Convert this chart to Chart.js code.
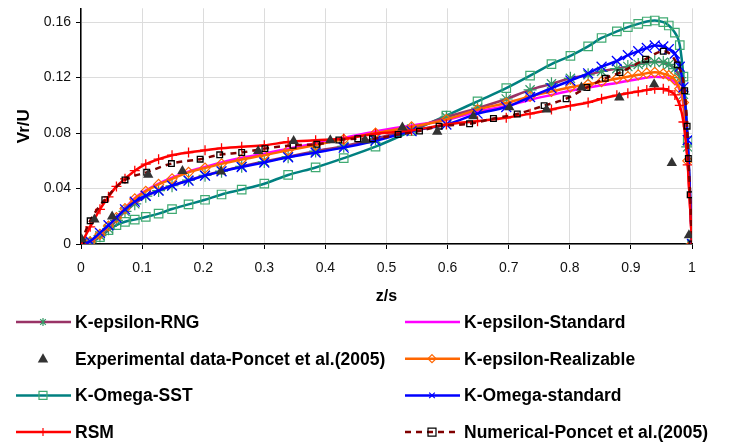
<!DOCTYPE html>
<html>
<head>
<meta charset="utf-8">
<script src="https://cdn.jsdelivr.net/npm/chart.js@4.4.0/dist/chart.umd.min.js"></script>
<style>
  body { margin: 0; background: #fff; }
</style>
</head>
<body>
<canvas id="vrChart" width="730" height="444"></canvas>
<script>
// z/s positions shared by the CFD runs
const zGrid = [0, 0.015, 0.031, 0.045, 0.058, 0.072, 0.088, 0.106, 0.127, 0.149,
  0.176, 0.203, 0.230, 0.263, 0.300, 0.339, 0.384, 0.430, 0.482, 0.541,
  0.598, 0.649, 0.696, 0.735, 0.770, 0.801, 0.830, 0.852, 0.877, 0.895,
  0.912, 0.926, 0.939, 0.953, 0.962, 0.972, 0.980, 0.986, 0.993, 1.0];

const rngVals = [0, 0.001, 0.006, 0.011, 0.017, 0.0235, 0.029, 0.0345, 0.0385, 0.042,
  0.046, 0.0495, 0.0525, 0.056, 0.0595, 0.063, 0.067, 0.0705, 0.076, 0.083,
  0.0915, 0.098, 0.1046, 0.1112, 0.1155, 0.1195, 0.122, 0.1245, 0.1265, 0.128,
  0.1295, 0.1308, 0.1314, 0.131, 0.1295, 0.1265, 0.12, 0.108, 0.07, 0];

const stdVals = [0, 0.0015, 0.007, 0.013, 0.019, 0.0258, 0.033, 0.0385, 0.0435, 0.0478,
  0.0522, 0.0556, 0.0588, 0.0622, 0.0652, 0.0688, 0.0726, 0.0765, 0.0812, 0.0855,
  0.0895, 0.0955, 0.0995, 0.104, 0.1075, 0.1105, 0.1128, 0.1145, 0.1162, 0.1175,
  0.119, 0.12, 0.1207, 0.1203, 0.1195, 0.1165, 0.111, 0.1, 0.06, 0];

const realVals = [0, 0.0015, 0.007, 0.013, 0.019, 0.0255, 0.0325, 0.038, 0.043, 0.047,
  0.0517, 0.0548, 0.0578, 0.061, 0.064, 0.0676, 0.0714, 0.0755, 0.080, 0.0845,
  0.0898, 0.0969, 0.1017, 0.1064, 0.110, 0.1131, 0.1152, 0.1171, 0.1192, 0.1207,
  0.122, 0.1232, 0.1238, 0.1228, 0.1215, 0.1183, 0.112, 0.102, 0.06, 0];

const sstVals = [0, 0.001, 0.005, 0.010, 0.0136, 0.016, 0.0176, 0.0195, 0.0219, 0.0252,
  0.0286, 0.0319, 0.0357, 0.0392, 0.0435, 0.0498, 0.0552, 0.0619, 0.0702, 0.0815,
  0.0926, 0.1029, 0.1124, 0.1214, 0.1298, 0.1357, 0.1425, 0.1486, 0.1533, 0.1564,
  0.1588, 0.1605, 0.1612, 0.1600, 0.1576, 0.1524, 0.1434, 0.1207, 0.0743, 0];

const komegaVals = [0, 0.002, 0.008, 0.0135, 0.019, 0.025, 0.0305, 0.0348, 0.0385, 0.0421,
  0.0457, 0.0493, 0.0524, 0.0555, 0.0588, 0.0625, 0.0659, 0.0695, 0.0745, 0.0814,
  0.0862, 0.094, 0.0988, 0.106, 0.1124, 0.1179, 0.1231, 0.1279, 0.132, 0.1362,
  0.139, 0.1414, 0.1432, 0.1425, 0.1405, 0.1374, 0.1279, 0.113, 0.075, 0];

const rsmVals = [0, 0.0124, 0.025, 0.034, 0.0415, 0.047, 0.0529, 0.0576, 0.0612, 0.064,
  0.066, 0.0676, 0.069, 0.0702, 0.0712, 0.0736, 0.0748, 0.0759, 0.0795, 0.0819,
  0.0862, 0.0886, 0.091, 0.094, 0.097, 0.0998, 0.1021, 0.1048, 0.1072, 0.1088,
  0.11, 0.111, 0.112, 0.112, 0.1105, 0.1075, 0.1, 0.088, 0.057, 0];

// Poncet et al. (2005)
const expZ = [0.001, 0.022, 0.051, 0.110, 0.166, 0.229, 0.290, 0.348, 0.408, 0.465,
  0.526, 0.583, 0.642, 0.701, 0.762, 0.819, 0.881, 0.938, 0.967, 0.995];
const expVals = [0.0035, 0.0176, 0.0198, 0.050, 0.0526, 0.0523, 0.0671, 0.0743, 0.0748, 0.0748,
  0.084, 0.081, 0.0921, 0.0986, 0.097, 0.1129, 0.1057, 0.1152, 0.0584, 0.0064];

const poncetZ = [0, 0.015, 0.039, 0.072, 0.1075, 0.148, 0.195, 0.227, 0.263, 0.301,
  0.347, 0.386, 0.422, 0.453, 0.477, 0.519, 0.554, 0.586, 0.636, 0.675,
  0.714, 0.758, 0.794, 0.828, 0.858, 0.882, 0.924, 0.953, 0.976, 0.988,
  0.992, 0.994, 0.997, 1.0];
const poncetVals = [0.001, 0.0167, 0.032, 0.0462, 0.0517, 0.058, 0.0612, 0.0643, 0.066, 0.0688,
  0.0712, 0.0719, 0.075, 0.0759, 0.0759, 0.079, 0.0814, 0.085, 0.0867, 0.0905,
  0.0938, 0.0998, 0.1048, 0.1129, 0.1195, 0.1236, 0.1333, 0.139, 0.1292, 0.1105,
  0.085, 0.0617, 0.0355, 0];

const xTickVals = [0, 0.1, 0.2, 0.3, 0.4, 0.5, 0.6, 0.7, 0.8, 0.9, 1];
const yTickVals = [0, 0.04, 0.08, 0.12, 0.16];

function pts(xs, ys) {
  return xs.map(function(x, i) { return {x: x, y: ys[i]}; });
}

const GREEN = '#339966';
const FONT = '"Liberation Sans", Arial, sans-serif';

// first dataset ends up on top
const datasets = [
  { label: 'Experimental data-Poncet et al.(2005)', data: pts(expZ, expVals), showLine: false,
    pointStyle: 'triangle', pointRadius: 6, pointBackgroundColor: '#333333', pointBorderColor: '#333333',
    borderColor: '#333333', borderWidth: 0 },
  { label: 'Numerical-Poncet et al.(2005)', data: pts(poncetZ, poncetVals), borderColor: '#800000',
    borderWidth: 2.5, borderDash: [6, 5], pointStyle: 'rect', pointRadius: 4,
    pointBorderColor: '#000', pointBackgroundColor: 'rgba(0,0,0,0)', pointBorderWidth: 1.3 },
  { label: 'RSM', data: pts(zGrid, rsmVals), borderColor: '#ff0000', borderWidth: 2.5,
    pointStyle: 'cross', pointRadius: 5, pointBorderColor: '#ff0000', pointBorderWidth: 1.3 },
  { label: 'K-Omega-standard', data: pts(zGrid, komegaVals), borderColor: '#0000ff', borderWidth: 2.5,
    pointStyle: 'crossRot', pointRadius: 7, pointBorderColor: '#0000ff', pointBorderWidth: 1.3 },
  { label: 'K-epsilon-Realizable', data: pts(zGrid, realVals), borderColor: '#ff6600', borderWidth: 2.5,
    pointStyle: 'rectRot', pointRadius: 5, pointBorderColor: '#ff6600',
    pointBackgroundColor: 'rgba(0,0,0,0)', pointBorderWidth: 1.2 },
  { label: 'K-epsilon-Standard', data: pts(zGrid, stdVals), borderColor: '#ff00ff', borderWidth: 2.5,
    pointRadius: 0 },
  { label: 'K-epsilon-RNG', data: pts(zGrid, rngVals), borderColor: '#993366', borderWidth: 2.5,
    pointStyle: 'star', pointRadius: 6.5, pointBorderColor: GREEN, pointBorderWidth: 1.2 },
  { label: 'K-Omega-SST', data: pts(zGrid, sstVals), borderColor: '#008080', borderWidth: 2.5,
    pointStyle: 'rect', pointRadius: 6, pointBorderColor: '#3faa72',
    pointBackgroundColor: 'rgba(0,0,0,0)', pointBorderWidth: 1.2 }
];
datasets.forEach(function(d) {
  d.fill = false;
  d.cubicInterpolationMode = 'monotone';
});

// legend layout: two columns, row by row
const legendOrder = ['K-epsilon-RNG', 'K-epsilon-Standard',
  'Experimental data-Poncet et al.(2005)', 'K-epsilon-Realizable',
  'K-Omega-SST', 'K-Omega-standard',
  'RSM', 'Numerical-Poncet et al.(2005)'];

function drawMark(ctx, style, x, y, r, stroke, fill) {
  ctx.save();
  ctx.strokeStyle = stroke;
  ctx.fillStyle = fill;
  ctx.lineWidth = 1.2;
  ctx.beginPath();
  if (style === 'triangle') {
    ctx.moveTo(x, y - r); ctx.lineTo(x + r * 0.95, y + r * 0.7); ctx.lineTo(x - r * 0.95, y + r * 0.7);
    ctx.closePath(); ctx.fill();
  } else if (style === 'rect') {
    ctx.rect(x - r, y - r, 2 * r, 2 * r); ctx.fill(); ctx.stroke();
  } else if (style === 'rectRot') {
    ctx.moveTo(x, y - r); ctx.lineTo(x + r, y); ctx.lineTo(x, y + r); ctx.lineTo(x - r, y);
    ctx.closePath(); ctx.fill(); ctx.stroke();
  } else if (style === 'cross') {
    ctx.moveTo(x, y - r); ctx.lineTo(x, y + r); ctx.stroke();
  } else if (style === 'crossRot') {
    const a = r * 0.7;
    ctx.moveTo(x - a, y - a); ctx.lineTo(x + a, y + a);
    ctx.moveTo(x + a, y - a); ctx.lineTo(x - a, y + a); ctx.stroke();
  } else if (style === 'star') {
    const a = r * 0.7;
    ctx.moveTo(x, y - r); ctx.lineTo(x, y + r);
    ctx.moveTo(x - a, y - a); ctx.lineTo(x + a, y + a);
    ctx.moveTo(x + a, y - a); ctx.lineTo(x - a, y + a); ctx.stroke();
  }
  ctx.restore();
}

const twoColLegend = {
  id: 'twoColLegend',
  afterDraw(chart) {
    const ctx = chart.ctx;
    ctx.save();
    ctx.font = 'bold 17.5px ' + FONT;
    ctx.textBaseline = 'middle';
    legendOrder.forEach(function(name, i) {
      const d = datasets.find(function(s) { return s.label === name; });
      const col = i % 2, row = Math.floor(i / 2);
      const x0 = col ? 405 : 16;
      const y = 322 + row * 36.7;
      if (d.showLine !== false) {
        ctx.save();
        ctx.strokeStyle = d.borderColor;
        ctx.lineWidth = d.borderWidth;
        ctx.setLineDash(d.borderDash || []);
        ctx.beginPath();
        ctx.moveTo(x0, y); ctx.lineTo(x0 + 55, y);
        ctx.stroke();
        ctx.restore();
      }
      if (d.pointRadius > 0) {
        drawMark(ctx, d.pointStyle, x0 + 27, y, d.pointStyle === 'triangle' ? 5.5 : 4,
          d.pointBorderColor, d.pointBackgroundColor || '#fff');
      }
      ctx.fillStyle = '#000';
      ctx.fillText(name, x0 + 59, y + 1);
    });
    ctx.restore();
  }
};

const ctx = document.getElementById('vrChart').getContext('2d');
const vrChart = new Chart(ctx, {
  type: 'line',
  data: { datasets: datasets },
  plugins: [twoColLegend],
  options: {
    responsive: false,
    animation: false,
    layout: { padding: { left: 0, right: 38, top: 7, bottom: 138 } },
    plugins: { legend: { display: false }, tooltip: { enabled: false } },
    scales: {
      x: {
        type: 'linear', min: 0, max: 1, bounds: 'data',
        afterBuildTicks: function(s) { s.ticks = xTickVals.map(function(v) { return {value: v}; }); },
        afterFit: function(s) { s.height = 62; s.paddingLeft = 0; s.paddingRight = 0; },
        grid: { color: '#dcdcdc', tickColor: '#000', tickLength: 5 },
        border: { color: '#000', width: 1.5 },
        ticks: { color: '#111', padding: 11, maxRotation: 0,
          callback: function(v) { return String(Number(v.toFixed(2))); },
          font: { family: FONT, size: 14 } },
        title: { display: true, text: 'z/s', color: '#000', padding: 0,
          font: { family: FONT, size: 16, weight: 'bold' } }
      },
      y: {
        type: 'linear', min: 0, max: 0.17, bounds: 'data',
        afterBuildTicks: function(s) { s.ticks = yTickVals.map(function(v) { return {value: v}; }); },
        afterFit: function(s) { s.width = 81; s.paddingTop = 0; s.paddingBottom = 0; },
        grid: { color: '#dcdcdc', tickColor: '#000', tickLength: 5 },
        border: { color: '#000', width: 1.5 },
        ticks: { color: '#111', padding: 5,
          callback: function(v) { return String(Number(v.toFixed(2))); },
          font: { family: FONT, size: 14 } },
        title: { display: true, text: 'Vr/U', color: '#000', padding: { top: 14, bottom: 0 },
          font: { family: FONT, size: 17, weight: 'bold' } }
      }
    }
  }
});
</script>
</body>
</html>
